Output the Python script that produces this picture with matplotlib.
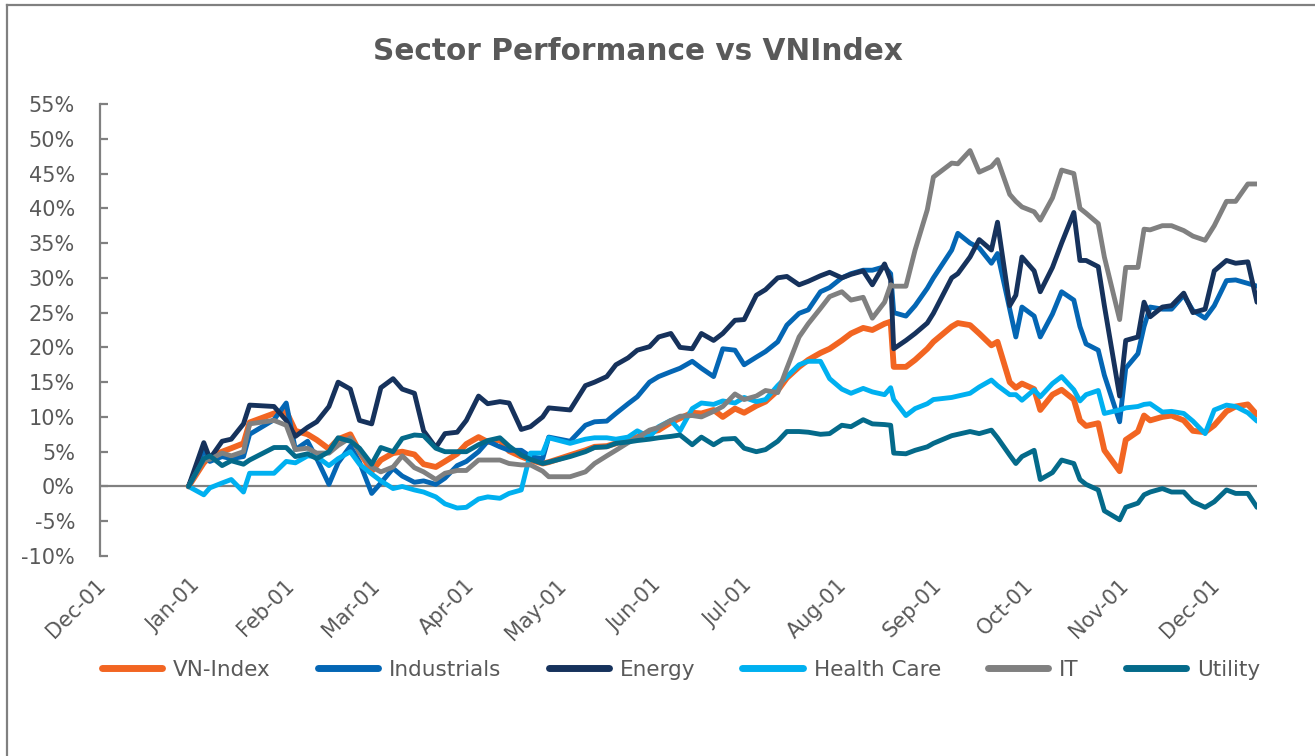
"""Sector Performance vs VNIndex - line chart recreated with matplotlib."""
import pandas as pd
import matplotlib.pyplot as plt
import matplotlib.dates as mdates
import matplotlib.transforms as mtransforms
from matplotlib.lines import Line2D

plt.rcParams.update({
    "font.family": ["DejaVu Sans"],
    "text.color": "#595959",
})

# ── data (cumulative return, %) ──────────────────────────────────
dates = [
    "2022-12-30", "2023-01-04", "2023-01-06", "2023-01-10", "2023-01-13", "2023-01-17", "2023-01-19", "2023-01-27", "2023-01-31", "2023-02-03",
    "2023-02-07", "2023-02-10", "2023-02-14", "2023-02-17", "2023-02-21", "2023-02-24", "2023-02-28", "2023-03-03", "2023-03-07", "2023-03-10",
    "2023-03-14", "2023-03-17", "2023-03-21", "2023-03-24", "2023-03-28", "2023-03-31", "2023-04-04", "2023-04-07", "2023-04-11", "2023-04-14",
    "2023-04-18", "2023-04-21", "2023-04-25", "2023-04-27", "2023-05-04", "2023-05-09", "2023-05-12", "2023-05-16", "2023-05-19", "2023-05-23",
    "2023-05-26", "2023-05-30", "2023-06-02", "2023-06-06", "2023-06-09", "2023-06-13", "2023-06-16", "2023-06-20", "2023-06-23", "2023-06-27",
    "2023-06-30", "2023-07-04", "2023-07-07", "2023-07-11", "2023-07-14", "2023-07-18", "2023-07-21", "2023-07-25", "2023-07-28", "2023-08-01",
    "2023-08-04", "2023-08-08", "2023-08-11", "2023-08-15", "2023-08-17", "2023-08-18", "2023-08-22", "2023-08-25", "2023-08-29", "2023-08-31",
    "2023-09-06", "2023-09-08", "2023-09-12", "2023-09-15", "2023-09-19", "2023-09-21", "2023-09-25", "2023-09-27", "2023-09-29", "2023-10-03",
    "2023-10-05", "2023-10-09", "2023-10-12", "2023-10-16", "2023-10-18", "2023-10-20", "2023-10-24", "2023-10-26", "2023-10-31", "2023-11-02",
    "2023-11-06", "2023-11-08", "2023-11-10", "2023-11-14", "2023-11-17", "2023-11-21", "2023-11-24", "2023-11-28", "2023-12-01", "2023-12-05",
    "2023-12-08", "2023-12-12", "2023-12-15",
]

vn_index = [
    0, 3.4, 4.3, 5.0, 5.5, 6.2, 9.2, 10.5, 10.8, 8.0,
    7.5, 6.7, 5.4, 6.8, 7.5, 5.0, 2.2, 3.8, 4.8, 5.0,
    4.6, 3.2, 2.8, 3.6, 4.7, 6.1, 7.1, 6.4, 6.7, 5.1,
    4.3, 3.8, 3.3, 3.5, 4.5, 5.2, 5.7, 5.8, 6.2, 6.9,
    7.1, 7.8, 8.1, 9.2, 9.8, 10.6, 10.5, 11.0, 10.0, 11.2,
    10.6, 11.6, 12.2, 13.8, 15.6, 17.2, 18.2, 19.2, 19.8, 21.0,
    22.0, 22.8, 22.5, 23.4, 23.7, 17.2, 17.2, 18.2, 19.8, 20.8,
    23.0, 23.5, 23.2, 22.0, 20.3, 20.8, 15.0, 14.2, 14.8, 14.0,
    11.0, 13.2, 13.9, 12.5, 9.5, 8.7, 9.1, 5.2, 2.2, 6.7,
    7.9, 10.2, 9.5, 10.0, 10.2, 9.5, 8.0, 7.8, 8.8, 10.8,
    11.5, 11.8, 10.3,
]

industrials = [
    0, 5.3, 3.6, 4.3, 4.0, 4.3, 7.5, 9.6, 12.0, 5.3,
    6.5, 4.0, 0.3, 3.4, 5.8, 3.5, -1.0, 0.5, 2.6, 1.5,
    0.6, 0.8, 0.3, 1.2, 3.0, 3.6, 5.0, 6.5, 5.7, 5.2,
    5.2, 4.3, 4.0, 7.1, 6.5, 8.8, 9.3, 9.4, 10.5, 11.9,
    12.9, 15.0, 15.8, 16.5, 17.0, 18.0, 17.0, 15.8, 19.8, 19.6,
    17.5, 18.6, 19.4, 20.8, 23.2, 24.9, 25.4, 28.0, 28.6, 30.0,
    30.6, 31.1, 31.1, 31.6, 30.6, 25.0, 24.5, 26.0, 28.5, 30.0,
    34.0, 36.4, 35.0, 34.3, 32.1, 33.5, 25.5, 21.5, 25.8, 24.5,
    21.5, 24.8, 28.0, 26.8, 23.0, 20.5, 19.6, 16.0, 9.3, 17.0,
    19.1, 23.0, 25.8, 25.5, 25.5, 27.5, 25.3, 24.2, 26.0, 29.6,
    29.7, 29.2, 28.8,
]

energy = [
    0, 6.3, 4.0, 6.5, 6.8, 9.0, 11.7, 11.5, 9.5, 7.2,
    8.5, 9.3, 11.5, 15.0, 14.0, 9.5, 9.0, 14.2, 15.5, 14.0,
    13.4, 8.0, 5.6, 7.6, 7.8, 9.5, 13.0, 11.9, 12.2, 12.0,
    8.2, 8.6, 10.0, 11.3, 11.0, 14.5, 15.0, 15.8, 17.5, 18.5,
    19.6, 20.1, 21.5, 22.0, 20.0, 19.8, 22.0, 21.0, 22.0, 23.9,
    24.0, 27.5, 28.3, 30.0, 30.2, 29.0, 29.5, 30.3, 30.8, 30.0,
    30.5, 31.0, 29.0, 32.0, 29.7, 19.8, 21.0, 22.0, 23.5, 24.9,
    30.0, 30.6, 33.0, 35.5, 34.0, 38.0, 26.0, 27.5, 33.0, 31.0,
    28.0, 31.5, 35.0, 39.4, 32.5, 32.5, 31.6, 26.0, 13.0, 21.0,
    21.5, 26.5, 24.4, 25.8, 26.0, 27.8, 25.0, 25.5, 31.0, 32.5,
    32.1, 32.3, 26.5,
]

health_care = [
    0, -1.2, -0.2, 0.5, 1.0, -0.8, 1.9, 1.9, 3.6, 3.4,
    4.4, 4.3, 3.0, 4.0, 5.0, 3.2, 1.8, 0.8, -0.3, 0.0,
    -0.5, -0.8, -1.5, -2.5, -3.1, -3.0, -1.8, -1.5, -1.7, -1.0,
    -0.5, 4.8, 4.8, 7.0, 6.2, 6.8, 7.0, 7.0, 6.8, 7.1,
    8.0, 7.1, 8.6, 9.5, 8.0, 11.2, 12.0, 11.8, 12.3, 12.0,
    12.8, 12.2, 12.5, 14.5, 15.8, 17.5, 18.0, 18.0, 15.5, 14.0,
    13.4, 14.1, 13.6, 13.2, 14.2, 12.5, 10.2, 11.2, 11.9, 12.5,
    12.8, 13.0, 13.4, 14.3, 15.3, 14.5, 13.2, 13.2, 12.4, 13.9,
    12.9, 14.8, 15.8, 13.9, 12.3, 13.2, 13.8, 10.5, 11.0, 11.3,
    11.5, 11.8, 11.9, 10.7, 10.8, 10.5, 9.4, 7.6, 11.0, 11.7,
    11.5, 10.6, 9.4,
]

it = [
    0, 3.8, 3.9, 4.8, 4.4, 5.0, 9.0, 9.5, 8.8, 5.3,
    5.5, 4.8, 4.8, 5.9, 7.0, 5.0, 2.8, 2.1, 2.8, 4.4,
    2.7, 2.1, 1.0, 1.9, 2.3, 2.3, 3.8, 3.8, 3.8, 3.3,
    3.1, 3.1, 2.2, 1.4, 1.4, 2.1, 3.3, 4.4, 5.2, 6.3,
    7.0, 8.1, 8.5, 9.5, 10.1, 10.2, 10.0, 10.8, 11.5, 13.3,
    12.5, 13.0, 13.8, 13.5, 17.0, 21.5, 23.4, 25.6, 27.3, 28.0,
    26.8, 27.2, 24.2, 26.5, 29.0, 28.8, 28.8, 34.0, 39.8, 44.5,
    46.5, 46.4, 48.3, 45.2, 46.0, 47.0, 42.0, 41.0, 40.2, 39.5,
    38.3, 41.5, 45.5, 45.0, 40.0, 39.3, 37.8, 33.0, 24.0, 31.5,
    31.5, 37.0, 36.9, 37.5, 37.5, 36.8, 36.0, 35.4, 37.5, 41.0,
    41.0, 43.5, 43.5,
]

utility = [
    0, 4.0, 4.4, 3.0, 3.7, 3.2, 3.8, 5.6, 5.6, 4.3,
    4.7, 4.0, 5.0, 7.0, 6.5, 5.5, 3.2, 5.6, 5.0, 6.9,
    7.4, 7.3, 5.5, 5.0, 5.0, 5.0, 6.0, 6.6, 7.0, 5.8,
    4.5, 3.9, 3.3, 3.5, 4.3, 5.0, 5.6, 5.7, 6.2, 6.4,
    6.6, 6.8, 7.0, 7.2, 7.4, 6.0, 7.1, 6.0, 6.8, 6.9,
    5.5, 5.0, 5.3, 6.5, 7.9, 7.9, 7.8, 7.5, 7.6, 8.8,
    8.6, 9.6, 9.0, 8.9, 8.8, 4.8, 4.7, 5.2, 5.7, 6.2,
    7.3, 7.5, 7.9, 7.6, 8.1, 7.0, 4.5, 3.3, 4.3, 5.2,
    1.0, 2.0, 3.8, 3.3, 1.0, 0.3, -0.5, -3.5, -4.8, -3.0,
    -2.4, -1.2, -0.8, -0.3, -0.8, -0.8, -2.2, -3.0, -2.2, -0.5,
    -1.0, -1.0, -3.0,
]

series_names = ["VN-Index", "Industrials", "Energy", "Health Care", "IT", "Utility"]
series_values = [vn_index, industrials, energy, health_care, it, utility]
series_colors = ["#F26522", "#0466B4", "#16325C", "#00B0F0", "#808080", "#046A8A"]
series_widths = [4.2, 3.5, 3.5, 3.5, 3.5, 3.5]

y_ticks = list(range(-10, 56, 5))
x_ticks = pd.date_range("2022-12-01", "2023-12-01", freq="MS")

TEXT_GRAY = "#595959"
AXIS_GRAY = "#808080"

# ── figure / axes placement (pixel layout of 1315 x 756) ─────────
W, H = 1315, 756
fig = plt.figure(figsize=(W / 100, H / 100), dpi=100)
ax = fig.add_axes([100 / W, 1 - 556 / H, (1257 - 100) / W, (556 - 104) / H])

x = pd.to_datetime(dates)
for name, vals, col, lw in zip(series_names, series_values, series_colors, series_widths):
    ax.plot(x, vals, color=col, lw=lw, label=name, solid_joinstyle="round",
            solid_capstyle="round", zorder=3)

ax.axhline(0, color=AXIS_GRAY, lw=1.6, zorder=1)

ax.set_xlim(pd.Timestamp("2022-12-01"), x[-1])
ax.set_ylim(-10, 55)
ax.set_yticks(y_ticks)
ax.set_yticklabels([f"{v}%" for v in y_ticks])
ax.set_xticks(x_ticks)
ax.xaxis.set_major_formatter(mdates.DateFormatter("%b-%d"))

for side in ["top", "right", "bottom"]:
    ax.spines[side].set_visible(False)
ax.spines["left"].set_color(AXIS_GRAY)
ax.spines["left"].set_linewidth(1.6)

ax.tick_params(axis="y", direction="in", length=6, width=1.6, color=AXIS_GRAY,
               labelsize=15, labelcolor=TEXT_GRAY, pad=18)
ax.tick_params(axis="x", length=0, labelsize=15, labelcolor=TEXT_GRAY, pad=14)

offset = mtransforms.ScaledTranslation(-5 / 100, 0, fig.dpi_scale_trans)
for lbl in ax.get_xticklabels():
    lbl.set_rotation(45)
    lbl.set_rotation_mode("anchor")
    lbl.set_ha("right")
    lbl.set_va("top")
    lbl.set_transform(lbl.get_transform() + offset)

# ── title ────────────────────────────────────────────────────────
fig.text(638 / W, 1 - 52 / H, "Sector Performance vs VNIndex", ha="center", va="center",
         fontsize=21.3, fontweight="bold", color=TEXT_GRAY)

# ── legend ───────────────────────────────────────────────────────
handles = [Line2D([], [], color=c, lw=5, solid_capstyle="round") for c in series_colors]
fig.legend(handles, series_names, loc="center", bbox_to_anchor=(681 / W, 1 - 670 / H),
           ncol=6, frameon=False, fontsize=15.5, handlelength=2.8, handletextpad=0.5,
           columnspacing=2.2, labelcolor=TEXT_GRAY)

# ── chart-area border (left and top edges visible) ───────────────
fig.add_artist(Line2D([7 / W, 7 / W], [0, 1 - 5 / H], color=AXIS_GRAY, lw=1.6,
                      transform=fig.transFigure))
fig.add_artist(Line2D([7 / W, 1], [1 - 5 / H, 1 - 5 / H], color=AXIS_GRAY, lw=1.6,
                      transform=fig.transFigure))

fig.savefig("out.png", dpi=100)
